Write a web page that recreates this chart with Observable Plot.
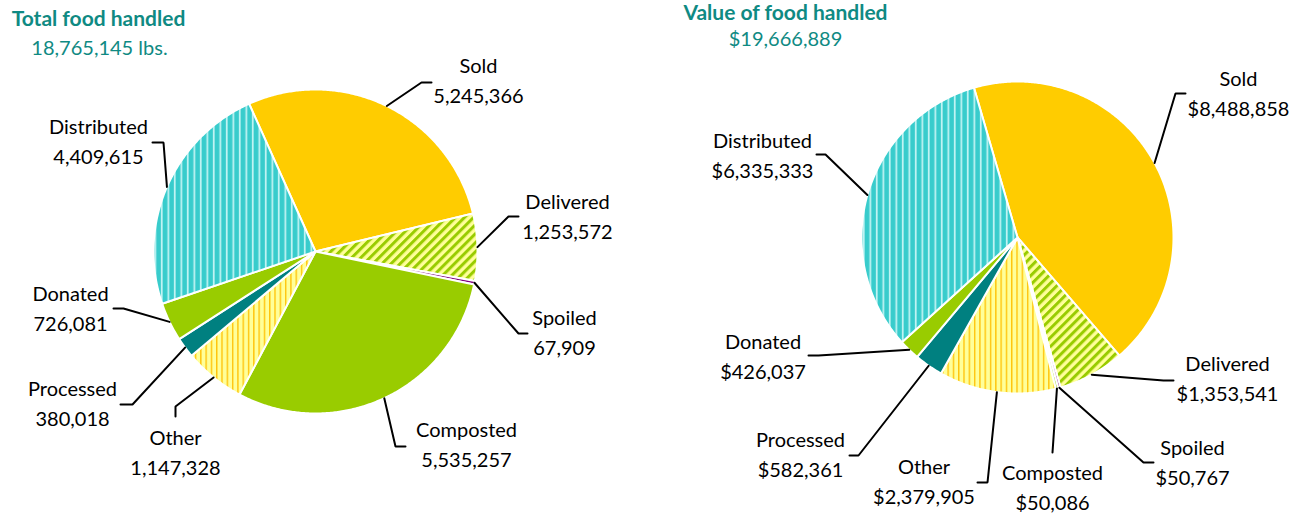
<!DOCTYPE html>
<html><head><meta charset="utf-8">
<script src="https://cdn.jsdelivr.net/npm/d3@7"></script>
<script src="https://cdn.jsdelivr.net/npm/@observablehq/plot@0.6"></script>
<style>html,body{margin:0;padding:0;background:#fff;} #chart{width:1300px;height:514px;}</style>
</head><body>
<svg width="0" height="0" style="position:absolute">
 <defs>
  <pattern id="patDistributed" patternUnits="userSpaceOnUse" width="6.5" height="10">
    <rect width="6.5" height="10" fill="#38CCCC"/>
    <rect x="4.5" width="1.6" height="10" fill="#CFF7F7"/>
  </pattern>
  <pattern id="patDelivered" patternUnits="userSpaceOnUse" width="6.4" height="10" patternTransform="rotate(45)">
    <rect width="6.4" height="10" fill="#FFFF99"/>
    <rect width="3" height="10" fill="#99CC00"/>
  </pattern>
  <pattern id="patOther" patternUnits="userSpaceOnUse" width="5.3" height="10">
    <rect width="5.3" height="10" fill="#FFFF99"/>
    <rect x="3.6" width="1.3" height="10" fill="#FFC000"/>
  </pattern>
 </defs>
</svg>
<div id="chart"></div>
<script>
// ---- data ----
const categories = ["Sold","Delivered","Spoiled","Composted","Other","Processed","Donated","Distributed"];
const poundsHandled = [5245366, 1253572, 67909, 5535257, 1147328, 380018, 726081, 4409615];
const valueHandled  = [8488858, 1353541, 50767, 50086, 2379905, 582361, 426037, 6335333];
const titles = ["Total food handled", "Value of food handled"];
const totals = ["18,765,145 lbs.", "$19,666,889"];

// ---- styles ----
const sliceFill = {Sold:"#FFCC00", Delivered:"url(#patDelivered)", Spoiled:"#800080", Composted:"#99CC00",
  Other:"url(#patOther)", Processed:"#008080", Donated:"#99CC00", Distributed:"url(#patDistributed)"};
const teal = "#0f8a83";

// ---- layout ----
const pieLayout = [
  {cx:315, cy:251, r:162, start:-24.2, prefix:"",
   titlePos:[98,19], totalPos:[99,48],
   leaders:{Sold:[[421,82],[431,82]], Delivered:[[508,216],[518,216]], Spoiled:[[518,333],[527,333]],
     Composted:[[395,446],[405,446]], Other:[[175,406],[175,416]], Processed:[[132,404],[120,404]],
     Donated:[[123,308],[113,308]], Distributed:[[163,142],[152,142]]},
   labels:{Sold:[478,78], Delivered:[567,213.5], Spoiled:[564,330], Composted:[466,442],
     Other:[175,449.5], Processed:[72,401], Donated:[70,305.5], Distributed:[98,139]}},
  {cx:1017, cy:237, r:156, start:-16.2, prefix:"$",
   titlePos:[785,13], totalPos:[785,39],
   leaders:{Sold:[[1175,93],[1185,93]], Delivered:[[1163,380],[1173,380]], Spoiled:[[1143,462],[1153,462]],
     Composted:[[1052,452]], Other:[[987,482],[977,482]], Processed:[[858,455],[849,455]],
     Donated:[[818,355],[808,355]], Distributed:[[825,154],[816,154]]},
   labels:{Sold:[1238,90.5], Delivered:[1227,375.5], Spoiled:[1192,459.5], Composted:[1052,485],
     Other:[923.5,478.5], Processed:[800,452], Donated:[762.5,354], Distributed:[762,153]}}
];

const series = [poundsHandled, valueHandled];
const wedgePts = [], leaderPts = [], labelRows = [], titleRows = [], totalRows = [];
const fmt = d3.format(",");
series.forEach((vals, p) => {
  const L = pieLayout[p];
  const s = L.start * Math.PI / 180;
  const arcs = d3.pie().sort(null).value(d => d.v).startAngle(s).endAngle(s + 2*Math.PI)(
    categories.map((c, i) => ({c, v: vals[i]})));
  arcs.forEach(a => {
    const key = p + "-" + a.data.c;
    wedgePts.push({key, fill: sliceFill[a.data.c], x: L.cx, y: L.cy});
    const n = Math.max(2, Math.ceil((a.endAngle - a.startAngle) / (Math.PI/360)));
    for (let i = 0; i <= n; i++) {
      const ang = a.startAngle + (a.endAngle - a.startAngle) * i / n;
      wedgePts.push({key, fill: sliceFill[a.data.c], x: L.cx + L.r*Math.sin(ang), y: L.cy - L.r*Math.cos(ang)});
    }
    const mid = (a.startAngle + a.endAngle) / 2;
    leaderPts.push({key, x: L.cx + L.r*Math.sin(mid), y: L.cy - L.r*Math.cos(mid)});
    L.leaders[a.data.c].forEach(([x, y]) => leaderPts.push({key, x, y}));
    const [lx, ly] = L.labels[a.data.c];
    labelRows.push({x: lx, y: ly, text: a.data.c + "\n" + L.prefix + fmt(a.data.v)});
  });
  titleRows.push({x: L.titlePos[0], y: L.titlePos[1], text: titles[p]});
  totalRows.push({x: L.totalPos[0], y: L.totalPos[1], text: totals[p]});
});

const chart = Plot.plot({
  width: 1300, height: 514, margin: 0,
  style: {fontFamily: "Lato, 'Open Sans', sans-serif", background: "#fff"},
  x: {domain: [0, 1300], range: [0, 1300], axis: null},
  y: {domain: [0, 514], range: [0, 514], axis: null},
  color: {type: "identity"},
  marks: [
    Plot.line(wedgePts, {x: "x", y: "y", z: "key", fill: "fill", stroke: "white", strokeWidth: 2, curve: "linear-closed"}),
    Plot.line(leaderPts, {x: "x", y: "y", z: "key", stroke: "black", strokeWidth: 2, curve: "linear", strokeLinejoin: "miter"}),
    Plot.text(labelRows, {x: "x", y: "y", text: "text", fontSize: 20, lineHeight: 1.5, textAnchor: "middle", lineAnchor: "middle", fill: "black"}),
    Plot.text(titleRows, {x: "x", y: "y", text: "text", fontSize: 21, fontWeight: "bold", textAnchor: "middle", lineAnchor: "middle", fill: teal}),
    Plot.text(totalRows, {x: "x", y: "y", text: "text", fontSize: 20, textAnchor: "middle", lineAnchor: "middle", fill: teal})
  ]
});
document.getElementById("chart").appendChild(chart);
</script>
</body></html>
